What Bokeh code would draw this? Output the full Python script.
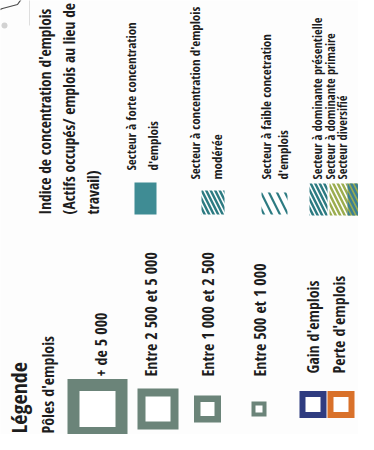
import math
from bokeh.plotting import figure
from bokeh.models import Range1d
from bokeh.core.properties import value
from bokeh.embed import file_html
from bokeh.resources import INLINE

# ---- data (legend content) ----
title = "Légende"
subtitle = "Pôles d'emplois"
pole_labels = ["+ de 5 000", "Entre 2 500 et 5 000", "Entre 1 000 et 2 500", "Entre 500 et 1 000"]
evol_labels = ["Gain d'emplois", "Perte d'emplois"]
indice_title = ["Indice de concentration d'emplois", "(Actifs occupés/ emplois au lieu de", "travail)"]
secteur_forte = ["Secteur à forte concentration", "d'emplois"]
secteur_moderee = ["Secteur à concentration d'emplois", "modérée"]
secteur_faible = ["Secteur à faible concetration", "d'emplois"]
secteur_dominante = ["Secteur à dominante présentielle", "Secteur à dominante primaire", "Secteur diversifié"]

# ---- styles ----
FONT = value("Open Sans Condensed")
TXT = "#1d1d1d"
GREY = "#6b8479"
TEAL = "#3f8c94"
HTEAL = "#2d7b82"
OLIVE = "#9bad4f"
BLUE = "#2f3c80"
ORANGE = "#d9712a"
UP = math.pi / 2

p = figure(width=358, height=434, x_range=Range1d(8, 366), y_range=Range1d(8, 442),
           output_backend="svg", toolbar_location=None, min_border=0)
p.axis.visible = False
p.grid.visible = False
p.outline_line_color = None
p.background_fill_color = "#fdfdfd"


def Y(v):
    return 450 - v


def vtext(xs, y0, texts, size):
    p.text(x=xs, y=[Y(y0)] * len(xs), text=texts, angle=UP, text_align="left",
           text_baseline="middle", text_font=FONT, text_font_size=size,
           text_font_style="bold", text_color=TXT)


def hollow(cx, cy, outer, border, color):
    p.rect(x=[cx], y=[Y(cy)], width=outer, height=outer, fill_color=color, line_color=None)
    p.rect(x=[cx], y=[Y(cy)], width=outer - 2 * border, height=outer - 2 * border,
           fill_color="white", line_color=None)


# map remnants (top-left)
p.line(x=[0, 10, 25, 30, 33], y=[Y(20), Y(16), Y(12), Y(5), Y(0)], line_color="#4a4a4a", line_width=1.2)
p.line(x=[37, 37], y=[Y(0), Y(33)], line_color="#dedede", line_width=1)
p.scatter(x=[12], y=[Y(33)], size=6, fill_color="#d2d2d2", line_color=None)

# left block: Légende
vtext([25], 441, [title], "22px")
vtext([55], 441, [subtitle], "16px")
vtext([108, 158, 215, 267], 384, pole_labels, "16px")
vtext([320, 346], 381, evol_labels, "16px")

hollow(105, 416.5, 60, 12, GREY)
hollow(165.5, 416.5, 41, 8, GREY)
hollow(215, 416.5, 27, 6.5, GREY)
hollow(266.5, 416.5, 15, 4, GREY)
hollow(320.5, 412, 27, 6, BLUE)
hollow(348.5, 412, 27, 6, ORANGE)

# top block: indice
vtext([52, 76, 100], 222, indice_title, "15.5px")
vtext([138, 160], 178, secteur_forte, "13px")
vtext([202, 224], 187, secteur_moderee, "13px")
vtext([273, 290], 187, secteur_faible, "13px")
vtext([325, 338, 350], 187, secteur_dominante, "12.5px")

p.rect(x=[153], y=[Y(206)], width=22, height=32, fill_color=TEAL, line_color=None)
p.rect(x=[220.5], y=[Y(210)], width=23, height=24, fill_color="white", line_color=None,
       hatch_pattern="\\", hatch_color=HTEAL, hatch_scale=9, hatch_weight=2.5)
p.rect(x=[282], y=[Y(211)], width=26, height=22, fill_color="white", line_color=None,
       hatch_pattern="\\", hatch_color=HTEAL, hatch_scale=16, hatch_weight=2.2)
p.rect(x=[326], y=[Y(207)], width=18, height=32, fill_color="white", line_color=None,
       hatch_pattern="\\", hatch_color=HTEAL, hatch_scale=9, hatch_weight=2.5)
p.rect(x=[346], y=[Y(207)], width=18, height=32, fill_color="white", line_color=None,
       hatch_pattern="\\", hatch_color=OLIVE, hatch_scale=9, hatch_weight=2.5)
p.rect(x=[364], y=[Y(207)], width=18, height=32, fill_color=OLIVE, line_color=None,
       hatch_pattern="\\", hatch_color="#3b7f93", hatch_scale=9, hatch_weight=2.5)

open("out.html", "w").write(file_html(p, INLINE))
